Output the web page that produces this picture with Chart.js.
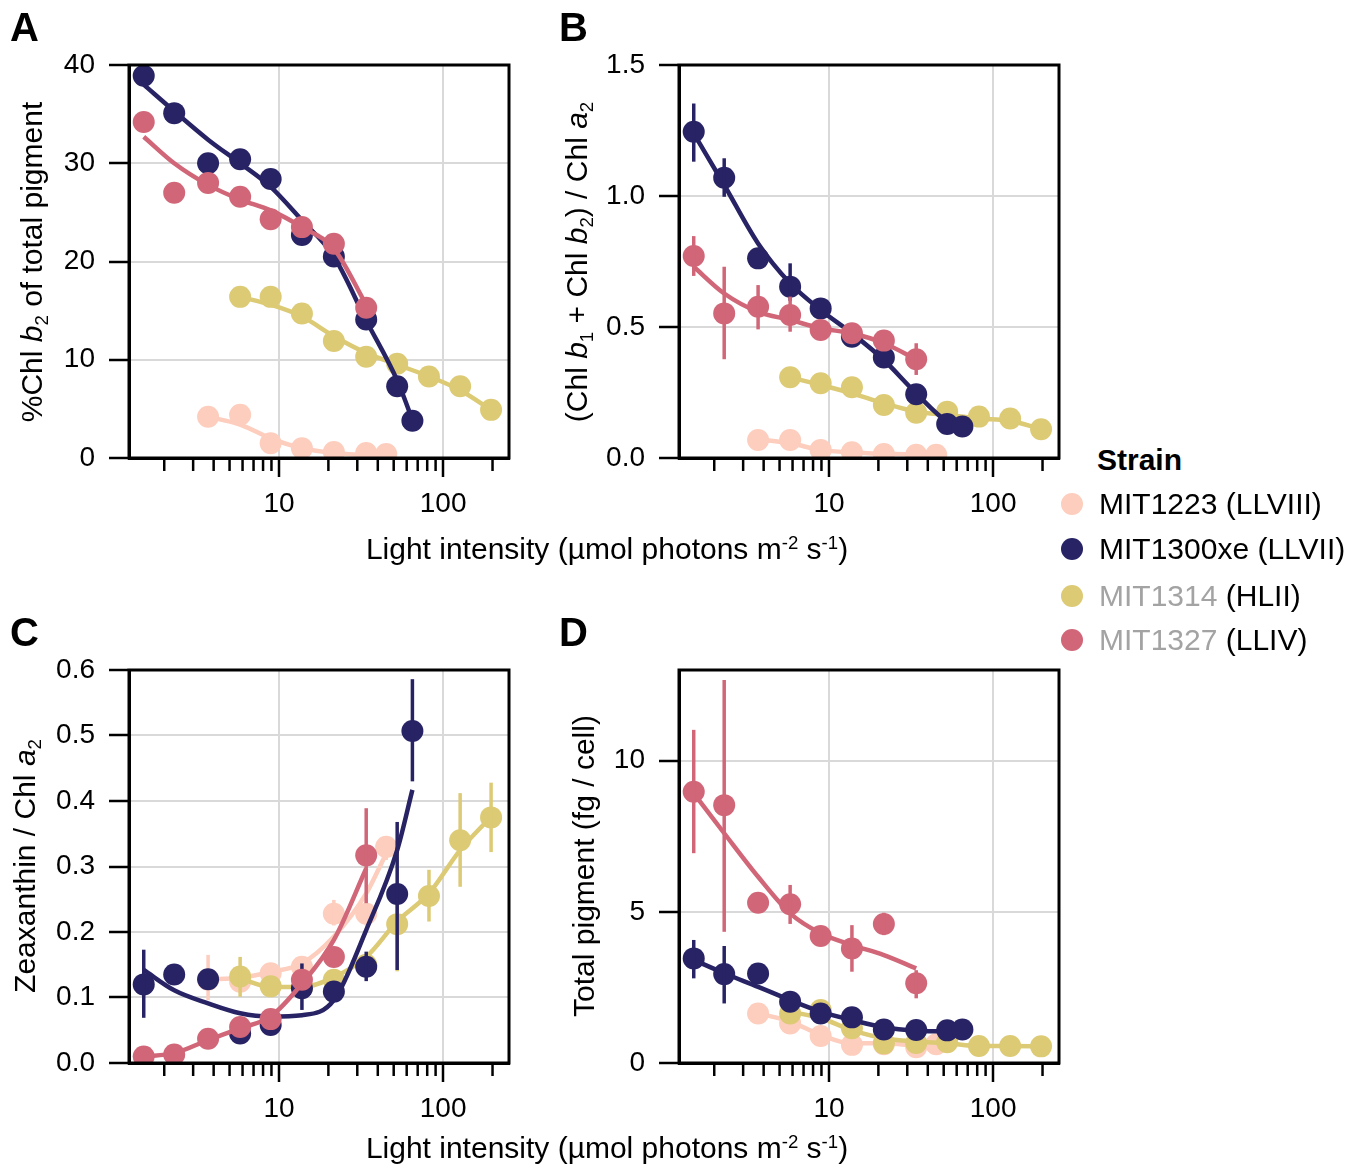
<!DOCTYPE html>
<html>
<head>
<meta charset="utf-8">
<script src="https://cdn.jsdelivr.net/npm/chart.js@4.4.1/dist/chart.umd.min.js"></script>
<style>
  body { margin: 0; background: #fff; font-family: "Liberation Sans", Arial, sans-serif; }
  #page { position: relative; width: 1360px; height: 1166px; overflow: hidden; background: #fff; }
  canvas { position: absolute; }
  .letter { position: absolute; font-size: 40px; font-weight: bold; line-height: 40px; }
  .ytitle { position: absolute; font-size: 30px; line-height: 34px; white-space: nowrap;
            transform: translate(-50%, -50%) rotate(-90deg); }
  .xtitle { position: absolute; font-size: 30px; line-height: 34px; white-space: nowrap;
            transform: translate(-50%, -50%); }
  sub, sup { font-size: 62%; line-height: 0; }
  sub { vertical-align: -0.3em; }
  sup { vertical-align: 0.55em; }
  .legend { position: absolute; left: 1060px; top: 440px; font-size: 30px; }
  .legend .head { position: absolute; left: 37px; top: 0; font-weight: bold; line-height: 40px; }
  .legend .row { position: absolute; left: 0; height: 40px; line-height: 40px; white-space: nowrap; }
  .legend .dot { position: absolute; left: 1px; top: 9px; width: 22px; height: 22px; border-radius: 50%; }
  .legend .txt { position: absolute; left: 39px; }
  .grey { color: #a3a3a3; }
</style>
</head>
<body>
<div id="page">
  <canvas id="cA"></canvas>
  <canvas id="cB"></canvas>
  <canvas id="cC"></canvas>
  <canvas id="cD"></canvas>

  <div class="letter" style="left:10px;top:7px">A</div>
  <div class="letter" style="left:559px;top:7px">B</div>
  <div class="letter" style="left:10px;top:612px">C</div>
  <div class="letter" style="left:559px;top:612px">D</div>

  <div class="ytitle" style="left:32px;top:262px">%Chl <i>b</i><sub>2</sub> of total pigment</div>
  <div class="ytitle" style="left:577px;top:262px">(Chl <i>b</i><sub>1</sub> + Chl <i>b</i><sub>2</sub>) / Chl <i>a</i><sub>2</sub></div>
  <div class="ytitle" style="left:25px;top:866px">Zeaxanthin / Chl <i>a</i><sub>2</sub></div>
  <div class="ytitle" style="left:584px;top:866px">Total pigment (fg / cell)</div>

  <div class="xtitle" style="left:607px;top:549px">Light intensity (µmol photons m<sup>-2</sup> s<sup>-1</sup>)</div>
  <div class="xtitle" style="left:607px;top:1148px">Light intensity (µmol photons m<sup>-2</sup> s<sup>-1</sup>)</div>

  <div class="legend" id="legend"></div>
</div>

<script>
// strains
const strainNames = ['MIT1223', 'MIT1300xe', 'MIT1314', 'MIT1327'];
const cladeNames = ['(LLVIII)', '(LLVII)', '(HLII)', '(LLIV)'];
const strainColors = ['#fdcdbd', '#272364', '#dcca74', '#d06677'];
const nameGreyed = [false, false, true, true];
const strainOrder = [4, 2, 3, 1]; // higher = drawn lower

// light levels per strain (µmol photons m-2 s-1)
const light1223 = [3.7, 5.8, 8.9, 13.8, 21.6, 34, 45];
const light1300 = [1.5, 2.3, 3.7, 5.8, 8.9, 13.8, 21.6, 34, 52.5, 65];
const light1314 = [5.8, 8.9, 13.8, 21.6, 34, 52.5, 82, 127, 196];
const light1327 = [1.5, 2.3, 3.7, 5.8, 8.9, 13.8, 21.6, 34];

// x ticks
const xTickValues = [2, 3, 4, 5, 6, 7, 8, 9, 10, 20, 30, 40, 50, 60, 70, 80, 90, 100, 200];
const xLabelValues = [10, 100];

// A: %Chl b2 of total pigment
const chlB2_1223 = [4.2, 4.4, 1.5, 1.0, 0.6, 0.5, 0.4];
const chlB2_1300 = [38.9, 35.1, 30.0, 30.4, 28.4, 22.7, 20.5, 14.1, 7.3, 3.8];
const chlB2_1314 = [16.4, 16.4, 14.7, 11.9, 10.3, 9.6, 8.3, 7.3, 4.9];
const chlB2_1327 = [34.2, 27.0, 28.0, 26.6, 24.3, 23.5, 21.8, 15.3];
const chlB2Fit_1223 = [4.2, 3.4, 2.0, 1.0, 0.5, 0.3, 0.25];
const chlB2Fit_1300 = [38.0, 35.3, 32.4, 30.0, 27.6, 24.2, 20.5, 14.0, 7.9, 3.9];
const chlB2Fit_1314 = [16.4, 15.6, 14.4, 12.4, 10.7, 9.5, 8.3, 6.9, 4.9];
const chlB2Fit_1327 = [32.7, 30.0, 27.8, 26.3, 25.2, 23.5, 21.3, 15.6];
const yTicksA = [0, 10, 20, 30, 40];

// B: (Chl b1 + Chl b2) / Chl a2
const ratio_1223 = [0.069, 0.069, 0.031, 0.022, 0.015, 0.012, 0.012];
const ratio_1300 = [1.245, 1.07, 0.762, 0.654, 0.571, 0.463, 0.384, 0.243, 0.130, 0.120];
const ratio_1314 = [0.308, 0.285, 0.270, 0.202, 0.173, 0.177, 0.158, 0.151, 0.110];
const ratio_1327 = [0.771, 0.552, 0.577, 0.546, 0.489, 0.476, 0.448, 0.377];
const ratioFit_1223 = [0.071, 0.056, 0.031, 0.021, 0.016, 0.013, 0.012];
const ratioFit_1300 = [1.239, 1.042, 0.819, 0.667, 0.565, 0.476, 0.374, 0.247, 0.139, 0.120];
const ratioFit_1314 = [0.308, 0.279, 0.247, 0.209, 0.177, 0.164, 0.151, 0.142, 0.110];
const ratioFit_1327 = [0.730, 0.628, 0.558, 0.527, 0.495, 0.476, 0.438, 0.377];
const ratioErr_1300 = [[1.131, 1.353], [0.997, 1.144], null, [0.60, 0.743], null, null, null, null, null, null];
const ratioErr_1327 = [[0.695, 0.847], [0.377, 0.730], [0.491, 0.660], [0.482, 0.616], null, null, null, [0.317, 0.438]];
const yTicksB = [0, 0.5, 1.0, 1.5];

// C: Zeaxanthin / Chl a2
const zea_1223 = [0.127, 0.124, 0.137, 0.147, 0.228, 0.228, 0.330];
const zea_1300 = [0.120, 0.135, 0.128, 0.045, 0.058, 0.114, 0.109, 0.147, 0.258, 0.507];
const zea_1314 = [0.132, 0.117, 0.115, 0.127, 0.150, 0.212, 0.255, 0.340, 0.375];
const zea_1327 = [0.010, 0.013, 0.037, 0.055, 0.067, 0.127, 0.162, 0.317];
const zeaFit_1223 = [0.128, 0.130, 0.139, 0.152, 0.193, 0.259, 0.320];
const zeaFit_1300 = [0.142, 0.111, 0.091, 0.076, 0.071, 0.073, 0.096, 0.203, 0.325, 0.417];
const zeaFit_1314 = [0.129, 0.116, 0.116, 0.131, 0.162, 0.216, 0.259, 0.325, 0.376];
const zeaFit_1327 = [0.010, 0.015, 0.035, 0.053, 0.071, 0.121, 0.188, 0.297];
const zeaErr_1223 = [[0.096, 0.165], null, null, null, [0.21, 0.249], [0.21, 0.25], [0.31, 0.346]];
const zeaErr_1300 = [[0.069, 0.173], null, null, null, null, [0.081, 0.152], null, [0.125, 0.170], [0.142, 0.368], [0.430, 0.586]];
const zeaErr_1314 = [[0.101, 0.162], null, null, null, null, [0.14, 0.27], [0.216, 0.295], [0.269, 0.412], [0.322, 0.428]];
const zeaErr_1327 = [null, null, null, null, null, null, null, [0.244, 0.389]];
const yTicksC = [0, 0.1, 0.2, 0.3, 0.4, 0.5, 0.6];

// D: total pigment (fg / cell)
const pig_1223 = [1.64, 1.31, 0.89, 0.60, 0.62, 0.52, 0.62];
const pig_1300 = [3.46, 2.94, 2.96, 2.03, 1.64, 1.51, 1.11, 1.09, 1.08, 1.11];
const pig_1314 = [1.64, 1.75, 1.15, 0.65, 0.66, 0.69, 0.56, 0.56, 0.55];
const pig_1327 = [8.97, 8.53, 5.30, 5.25, 4.20, 3.79, 4.60, 2.64];
const pigFit_1223 = [1.64, 1.37, 0.93, 0.65, 0.65, 0.59, 0.62];
const pigFit_1300 = [3.41, 2.97, 2.52, 2.08, 1.70, 1.42, 1.18, 1.07, 1.05, 1.07];
const pigFit_1314 = [1.70, 1.48, 1.09, 0.82, 0.71, 0.65, 0.56, 0.56, 0.55];
const pigFit_1327 = [8.92, 7.60, 6.16, 4.95, 4.29, 3.90, 3.57, 3.13];
const pigErr_1300 = [[2.80, 4.07], [1.97, 3.87], null, null, null, null, null, null, null, null];
const pigErr_1327 = [[6.94, 11.02], [4.34, 12.67], null, [4.60, 5.89], [3.90, 4.50], [3.02, 4.56], [4.23, 4.97], [2.14, 3.07]];
const yTicksD = [0, 5, 10];

const lights = [light1223, light1300, light1314, light1327];

const panels = [
  { canvas: 'cA', box: [129, 65, 509, 458], yMax: 40, yTicks: yTicksA, digits: 0,
    values: [chlB2_1223, chlB2_1300, chlB2_1314, chlB2_1327],
    fits: [chlB2Fit_1223, chlB2Fit_1300, chlB2Fit_1314, chlB2Fit_1327],
    errs: [null, null, null, null] },
  { canvas: 'cB', box: [679, 65, 1059, 458], yMax: 1.5, yTicks: yTicksB, digits: 1,
    values: [ratio_1223, ratio_1300, ratio_1314, ratio_1327],
    fits: [ratioFit_1223, ratioFit_1300, ratioFit_1314, ratioFit_1327],
    errs: [null, ratioErr_1300, null, ratioErr_1327] },
  { canvas: 'cC', box: [129, 670, 509, 1063], yMax: 0.6, yTicks: yTicksC, digits: 1,
    values: [zea_1223, zea_1300, zea_1314, zea_1327],
    fits: [zeaFit_1223, zeaFit_1300, zeaFit_1314, zeaFit_1327],
    errs: [zeaErr_1223, zeaErr_1300, zeaErr_1314, zeaErr_1327] },
  { canvas: 'cD', box: [679, 670, 1059, 1063], yMax: 13, yTicks: yTicksD, digits: 0,
    values: [pig_1223, pig_1300, pig_1314, pig_1327],
    fits: [pigFit_1223, pigFit_1300, pigFit_1314, pigFit_1327],
    errs: [null, pigErr_1300, null, pigErr_1327] }
];

Chart.defaults.font.family = '"Liberation Sans", Arial, sans-serif';
Chart.defaults.font.size = 28;
Chart.defaults.color = '#000';

const errorBars = {
  id: 'errorBars',
  afterDatasetDraw(chart, args) {
    const ds = chart.data.datasets[args.index];
    if (!ds.errorBars) return;
    const { ctx, chartArea: a } = chart;
    const xs = chart.scales.x, ys = chart.scales.y;
    ctx.save();
    ctx.beginPath();
    ctx.rect(a.left, a.top, a.right - a.left, a.bottom - a.top);
    ctx.clip();
    ctx.strokeStyle = ds.backgroundColor;
    ctx.lineWidth = 3.5;
    ds.errorBars.forEach((e, i) => {
      if (!e) return;
      const px = xs.getPixelForValue(ds.data[i].x);
      ctx.beginPath();
      ctx.moveTo(px, ys.getPixelForValue(e[0]));
      ctx.lineTo(px, ys.getPixelForValue(e[1]));
      ctx.stroke();
    });
    ctx.restore();
  }
};

// box around the plot + the shorter minor x ticks
const frame = {
  id: 'frame',
  afterDraw(chart) {
    const { ctx, chartArea: a } = chart;
    const xs = chart.scales.x;
    ctx.save();
    ctx.strokeStyle = '#000';
    ctx.lineWidth = 2.5;
    xTickValues.forEach(v => {
      if (xLabelValues.includes(v)) return;
      const px = xs.getPixelForValue(v);
      ctx.beginPath();
      ctx.moveTo(px, a.bottom);
      ctx.lineTo(px, a.bottom + 13);
      ctx.stroke();
    });
    ctx.lineWidth = 3;
    ctx.strokeRect(a.left, a.top, a.right - a.left, a.bottom - a.top);
    ctx.restore();
  }
};

function makePanel(p) {
  const el = document.getElementById(p.canvas);
  const [l, t, r, b] = p.box;
  // top padding must exceed half the top label height + tick padding
  const padL = 110, padT = 35, padR = 20, padB = 72;
  const w = r - l + padL + padR, h = b - t + padT + padB;
  el.width = w; el.height = h;
  el.style.width = w + 'px'; el.style.height = h + 'px';
  el.style.left = (l - padL) + 'px'; el.style.top = (t - padT) + 'px';

  const datasets = [];
  for (let s = 0; s < 4; s++) {
    const xs = lights[s];
    datasets.push({
      data: xs.map((x, i) => ({ x, y: p.values[s][i] })),
      backgroundColor: strainColors[s],
      borderWidth: 0,
      pointRadius: 11,
      showLine: false,
      order: strainOrder[s],
      errorBars: p.errs[s]
    });
    datasets.push({
      data: xs.map((x, i) => ({ x, y: p.fits[s][i] })),
      borderColor: strainColors[s],
      backgroundColor: strainColors[s],
      borderWidth: 4.5,
      pointRadius: 0,
      showLine: true,
      cubicInterpolationMode: 'monotone',
      order: strainOrder[s]
    });
  }

  new Chart(el, {
    type: 'scatter',
    data: { datasets },
    plugins: [errorBars, frame],
    options: {
      responsive: false,
      animation: false,
      devicePixelRatio: 1,
      events: [],
      layout: { padding: { top: padT, right: padR, left: 0, bottom: 0 } },
      plugins: { legend: { display: false }, tooltip: { enabled: false } },
      scales: {
        x: {
          type: 'logarithmic',
          min: 1.22,
          max: 252,
          afterBuildTicks: (axis) => { axis.ticks = xTickValues.map(v => ({ value: v })); },
          afterFit: (axis) => { axis.height = padB; },
          ticks: {
            autoSkip: false,
            maxRotation: 0,
            padding: 10,
            callback: (v) => xLabelValues.includes(v) ? String(v) : ''
          },
          grid: {
            color: (c) => (c.tick && xLabelValues.includes(c.tick.value)) ? '#d9d9d9' : 'rgba(0,0,0,0)',
            lineWidth: 2,
            tickColor: (c) => (c.tick && xLabelValues.includes(c.tick.value)) ? '#000' : 'rgba(0,0,0,0)',
            tickWidth: 2.5,
            tickLength: 19
          },
          border: { color: '#000', width: 3 }
        },
        y: {
          type: 'linear',
          min: 0,
          max: p.yMax,
          afterBuildTicks: (axis) => { axis.ticks = p.yTicks.map(v => ({ value: v })); },
          afterFit: (axis) => { axis.width = padL; },
          ticks: {
            padding: 14,
            callback: (v) => Number(v).toFixed(p.digits)
          },
          grid: {
            color: '#d9d9d9',
            lineWidth: 2,
            tickColor: '#000',
            tickWidth: 2.5,
            tickLength: 20
          },
          border: { color: '#000', width: 3 }
        }
      }
    }
  });
}

panels.forEach(makePanel);

// legend
const leg = document.getElementById('legend');
const head = document.createElement('div');
head.className = 'head';
head.textContent = 'Strain';
leg.appendChild(head);
const rowTops = [44, 89, 136, 180];
strainNames.forEach((name, i) => {
  const row = document.createElement('div');
  row.className = 'row';
  row.style.top = rowTops[i] + 'px';
  const dot = document.createElement('div');
  dot.className = 'dot';
  dot.style.background = strainColors[i];
  const txt = document.createElement('div');
  txt.className = 'txt';
  const n = document.createElement('span');
  n.textContent = name;
  if (nameGreyed[i]) n.className = 'grey';
  txt.appendChild(n);
  txt.appendChild(document.createTextNode(' ' + cladeNames[i]));
  row.appendChild(dot);
  row.appendChild(txt);
  leg.appendChild(row);
});
</script>
</body>
</html>
